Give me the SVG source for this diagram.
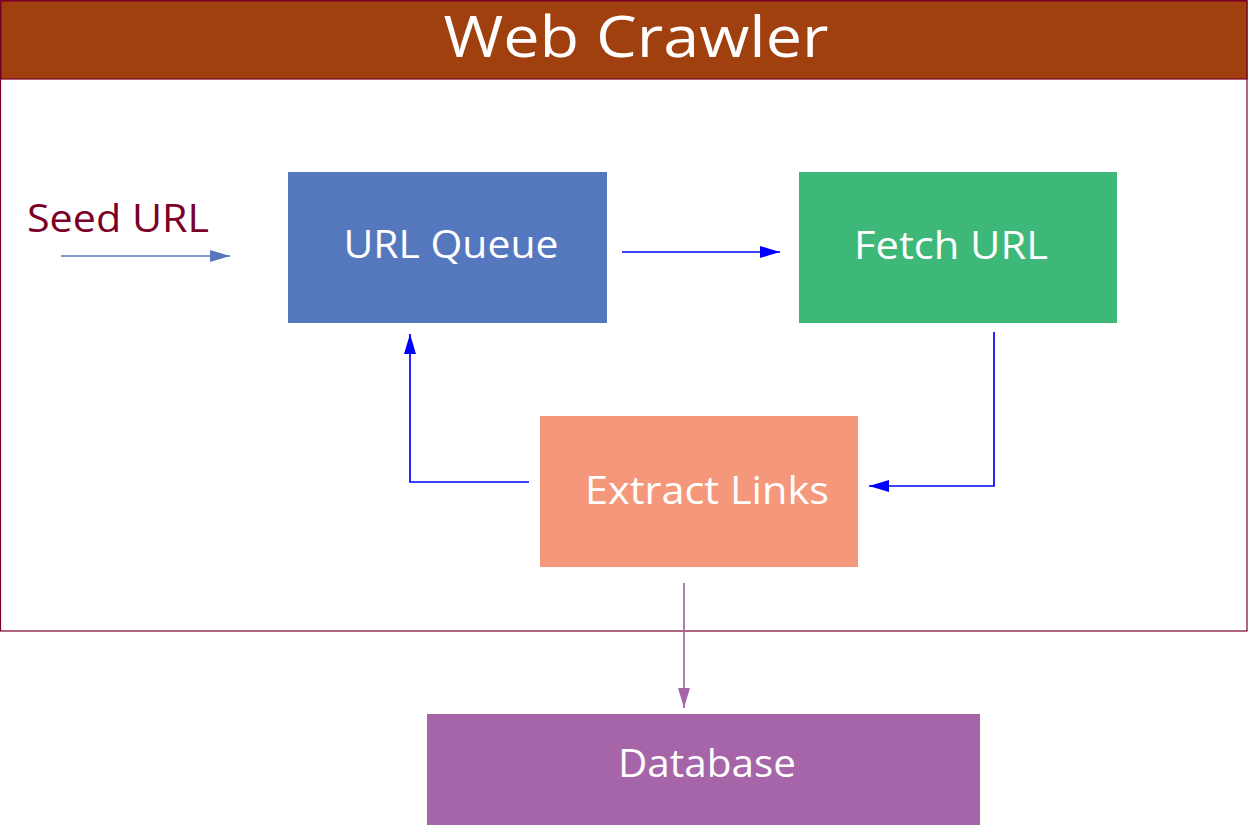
<svg xmlns="http://www.w3.org/2000/svg" width="1248" height="825" viewBox="0 0 1248 825">
<style>
.lbl{font-family:"Open Sans","Liberation Sans",sans-serif;fill:#fff;text-anchor:middle}
.box{stroke:none}
</style>
<defs>
<marker id="ab" viewBox="0 0 20 12" refX="20" refY="6" markerWidth="20" markerHeight="12" markerUnits="userSpaceOnUse" orient="auto"><path d="M0,0 L20,6 L0,12 z" fill="#0000FF"/></marker>
<marker id="as" viewBox="0 0 20 12" refX="20" refY="6" markerWidth="20" markerHeight="12" markerUnits="userSpaceOnUse" orient="auto"><path d="M0,0 L20,6 L0,12 z" fill="#5577BD"/></marker>
<marker id="ap" viewBox="0 0 20 12" refX="20" refY="6" markerWidth="20" markerHeight="12" markerUnits="userSpaceOnUse" orient="auto"><path d="M0,0 L20,6 L0,12 z" fill="#A565A8"/></marker>
</defs>
<g id="frame">
<rect x="0.5" y="0.5" width="1246.5" height="630.5" fill="#fff" stroke="#7A0028" stroke-width="1.2"/>
<rect x="1" y="1" width="1246" height="78" fill="#A0400F" stroke="#7A0028" stroke-width="1.2"/>
<text x="636" y="57" class="lbl" font-size="57" textLength="385" lengthAdjust="spacingAndGlyphs">Web Crawler</text>
</g>
<g id="seed">
<text x="27" y="232" font-family="Open Sans,Liberation Sans,sans-serif" font-size="39" fill="#7A0028" textLength="182" lengthAdjust="spacingAndGlyphs">Seed URL</text>
</g>
<g id="url-queue">
<rect class="box" x="288" y="172" width="319" height="151" fill="#5577BD"/>
<text x="451" y="258" class="lbl" font-size="39" textLength="215" lengthAdjust="spacingAndGlyphs">URL Queue</text>
</g>
<g id="fetch-url">
<rect class="box" x="799" y="172" width="318" height="151" fill="#3DB878"/>
<text x="951" y="259" class="lbl" font-size="39" textLength="194" lengthAdjust="spacingAndGlyphs">Fetch URL</text>
</g>
<g id="extract-links">
<rect class="box" x="540" y="416" width="318" height="151" fill="#F4977A"/>
<text x="707" y="504" class="lbl" font-size="39" textLength="244" lengthAdjust="spacingAndGlyphs">Extract Links</text>
</g>
<g id="database">
<rect class="box" x="427" y="714" width="553" height="111" fill="#A565A8"/>
<text x="707" y="777" class="lbl" font-size="39" textLength="178" lengthAdjust="spacingAndGlyphs">Database</text>
</g>
<g id="connectors" fill="none">
<line x1="61" y1="256" x2="230" y2="256" stroke="#5577BD" stroke-width="1.5" marker-end="url(#as)"/>
<line x1="622" y1="252" x2="780" y2="252" stroke="#0000FF" stroke-width="1.7" marker-end="url(#ab)"/>
<polyline points="994,332 994,486 869,486" stroke="#0000FF" stroke-width="1.7" marker-end="url(#ab)"/>
<polyline points="529,482 410,482 410,334" stroke="#0000FF" stroke-width="1.7" marker-end="url(#ab)"/>
<line x1="684" y1="583" x2="684" y2="708" stroke="#A565A8" stroke-width="1.7" marker-end="url(#ap)"/>
</g>
</svg>
